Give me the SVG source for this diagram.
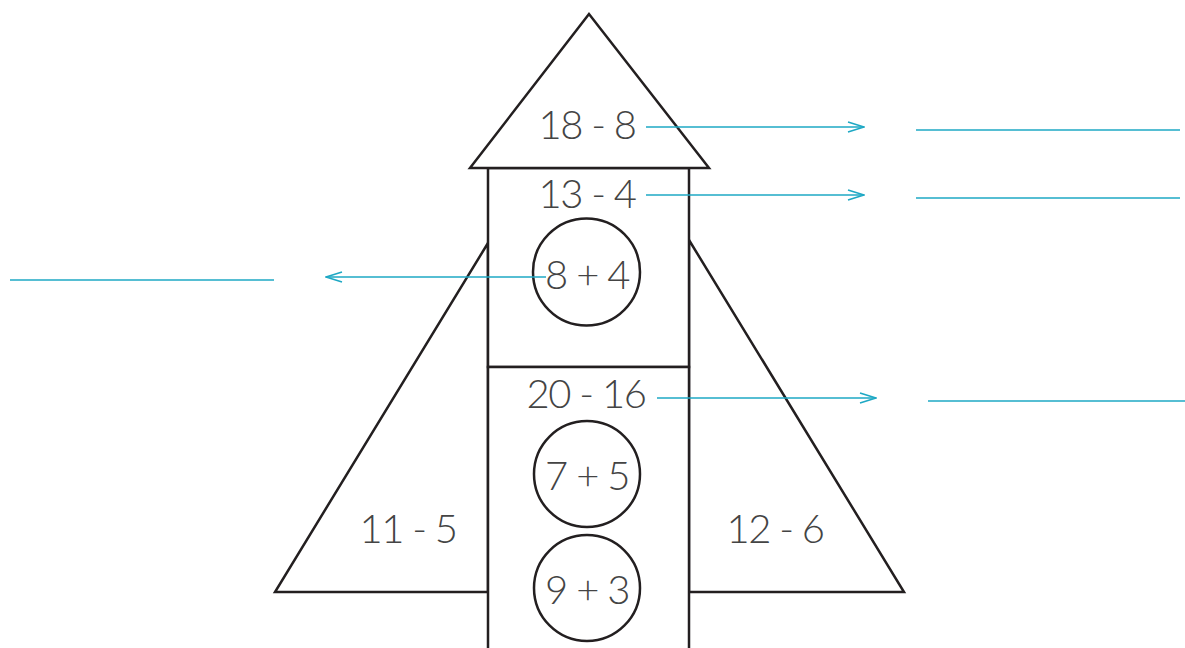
<svg xmlns="http://www.w3.org/2000/svg" width="1185" height="648" viewBox="0 0 1185 648">
<defs>
<style>
.s{fill:#fff;stroke:#231f20;stroke-width:2.5;stroke-linejoin:miter}
.t{font-family:Lato,"Open Sans","Liberation Sans",sans-serif;font-weight:300;font-size:40px;letter-spacing:-1.5px;fill:#444;text-anchor:middle}
.c{stroke:#1ea8c4;stroke-width:1.6;fill:none}
</style>
<marker id="ah" viewBox="0 0 18 12" refX="17" refY="6" markerWidth="18" markerHeight="12" markerUnits="userSpaceOnUse" orient="auto">
<path d="M1,1 L17,6 L1,11" fill="none" stroke="#1ea8c4" stroke-width="1.6"/>
</marker>
</defs>
<rect width="1185" height="648" fill="#fff"/>
<g id="left-wing"><polygon class="s" points="488,243 275,592 488,592"/><text class="t" x="408" y="543">11 - 5</text></g>
<g id="right-wing"><polygon class="s" points="689,240 904,592 689,592"/><text class="t" x="775" y="543">12 - 6</text></g>
<g id="upper-box"><rect class="s" x="488" y="168" width="201" height="199"/><text class="t" x="587" y="208">13 - 4</text></g>
<g id="lower-box"><rect class="s" x="488" y="367" width="201" height="290"/><text class="t" x="586" y="408">20 - 16</text></g>
<g id="nose"><polygon class="s" points="589,14 470,168 709,168"/><text class="t" x="587" y="139">18 - 8</text></g>
<g id="circle-8-4"><circle class="s" cx="586.5" cy="272" r="53.5"/><text class="t" x="587" y="289">8 + 4</text></g>
<g id="circle-7-5"><circle class="s" cx="587" cy="474" r="53"/><text class="t" x="587" y="490">7 + 5</text></g>
<g id="circle-9-3"><circle class="s" cx="587" cy="588" r="53"/><text class="t" x="587" y="604">9 + 3</text></g>
<g id="connectors">
<line class="c" x1="646" y1="127" x2="864" y2="127" marker-end="url(#ah)"/>
<line class="c" x1="646" y1="195" x2="864" y2="195" marker-end="url(#ah)"/>
<line class="c" x1="546" y1="277" x2="326" y2="277" marker-end="url(#ah)"/>
<line class="c" x1="657" y1="398" x2="876" y2="398" marker-end="url(#ah)"/>
<line class="c" x1="916" y1="130" x2="1180" y2="130"/>
<line class="c" x1="916" y1="198" x2="1180" y2="198"/>
<line class="c" x1="10" y1="280" x2="274" y2="280"/>
<line class="c" x1="928" y1="401" x2="1185" y2="401"/>
</g>
</svg>
